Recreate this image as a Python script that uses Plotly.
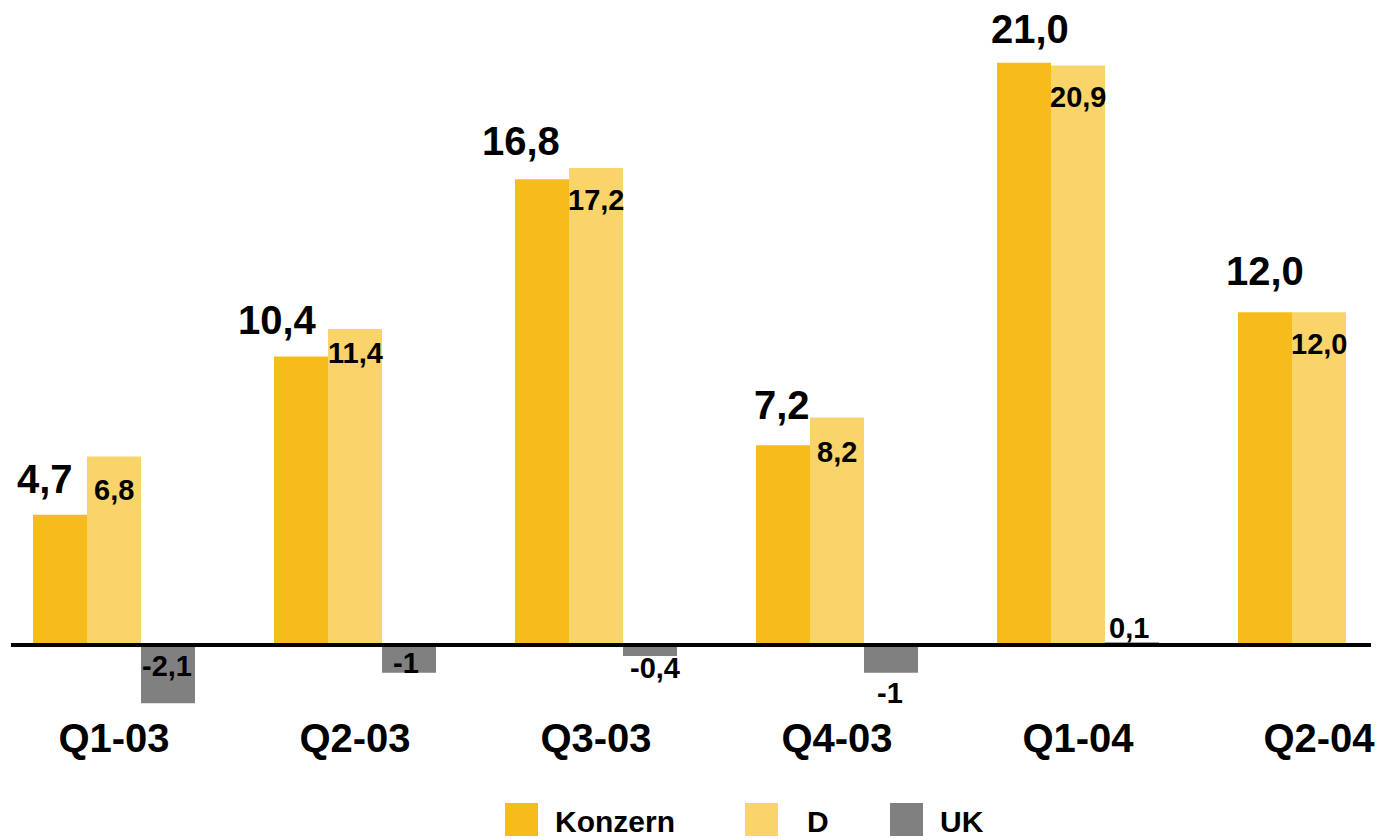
import plotly.graph_objects as go

categories = ["Q1-03", "Q2-03", "Q3-03", "Q4-03", "Q1-04", "Q2-04"]
konzern = [4.7, 10.4, 16.8, 7.2, 21.0, 12.0]
d_vals = [6.8, 11.4, 17.2, 8.2, 20.9, 12.0]
uk_vals = [-2.1, -1, -0.4, -1, 0.1, None]

konzern_labels = ["4,7", "10,4", "16,8", "7,2", "21,0", "12,0"]
d_labels = ["6,8", "11,4", "17,2", "8,2", "20,9", "12,0"]
uk_labels = ["-2,1", "-1", "-0,4", "-1", "0,1", ""]

series_names = ["Konzern", "D", "UK"]
colors = ["#F6BC1C", "#F9D46B", "#808080"]

# label placement tweaks (pixels)
k_dx = [-15, -24, -21, -1, 6, 0]
k_dy = [36, 37, 38, 40, 34, 41]
d_dy = [-34, -24.5, -32, -34.5, -32, -31.5]
uk_dx = [-1, -3, 5, -1, -3, 0]
uk_dy = [-21, -18, -23, -48, 17, 0]

# page body margin offset (browser default 8px)
OFF = 8
W, H = 1388 - OFF, 840 - OFF
plot_bottom = 705 - OFF
zero_px = 645 - OFF
px_per_unit = 27.73
cat_step = 241
first_center = 114 - OFF
bar_px = 54

FONT = "Liberation Sans, Arial, sans-serif"

fig = go.Figure()
for name, vals, col in zip(series_names, [konzern, d_vals, uk_vals], colors):
    fig.add_trace(go.Bar(x=categories, y=vals, name=name, marker=dict(color=col, line=dict(width=0)),
                         showlegend=False, hoverinfo="x+y+name"))

annotations = []
for i, c in enumerate(categories):
    annotations.append(dict(x=c, y=konzern[i], xref="x", yref="y", text=konzern_labels[i],
                            showarrow=False, xanchor="center", yanchor="middle",
                            xshift=-bar_px + k_dx[i], yshift=k_dy[i],
                            font=dict(family=FONT, size=40, color="black", weight="bold")))
    annotations.append(dict(x=c, y=d_vals[i], xref="x", yref="y", text=d_labels[i],
                            showarrow=False, xanchor="center", yanchor="middle",
                            xshift=0, yshift=d_dy[i],
                            font=dict(family=FONT, size=29, color="black", weight="bold")))
    if uk_vals[i] is not None:
        annotations.append(dict(x=c, y=0, xref="x", yref="y", text=uk_labels[i],
                                showarrow=False, xanchor="center", yanchor="middle",
                                xshift=bar_px + uk_dx[i], yshift=uk_dy[i],
                                font=dict(family=FONT, size=29, color="black", weight="bold")))

# custom legend (reference pixel coordinates converted to paper)
def px2x(px):
    return (px - OFF) / W

def py2y(py):
    return (plot_bottom - (py - OFF)) / plot_bottom

legend_sq_x = [505, 745, 890]
legend_txt_x = [553, 805, 938]
shapes = []
for i, name in enumerate(series_names):
    shapes.append(dict(type="rect", xref="paper", yref="paper",
                       x0=px2x(legend_sq_x[i]), x1=px2x(legend_sq_x[i] + 33),
                       y0=py2y(836), y1=py2y(803),
                       fillcolor=colors[i], line=dict(width=0)))
    annotations.append(dict(x=px2x(legend_txt_x[i]), y=py2y(821), xref="paper", yref="paper",
                            text=name, showarrow=False, xanchor="left", yanchor="middle",
                            font=dict(family=FONT, size=30, color="black", weight="bold")))

# zero line
shapes.append(dict(type="line", xref="paper", yref="y", x0=px2x(11), x1=px2x(1371), y0=0, y1=0,
                   line=dict(color="black", width=4), layer="above"))

x0 = -first_center / cat_step
x1 = x0 + W / cat_step
y_max = zero_px / px_per_unit
y_min = -(plot_bottom - zero_px) / px_per_unit

fig.update_layout(
    width=W, height=H,
    margin=dict(l=0, r=0, t=0, b=H - plot_bottom, pad=0),
    paper_bgcolor="white", plot_bgcolor="white",
    barmode="group", bargap=1 - 3 * bar_px / cat_step, bargroupgap=0,
    xaxis=dict(type="category", range=[x0, x1], showgrid=False, zeroline=False, showline=False,
               ticks="", ticklabelstandoff=6,
               tickfont=dict(family=FONT, size=40, color="black", weight="bold")),
    yaxis=dict(range=[y_min, y_max], showgrid=False, zeroline=False, showline=False,
               showticklabels=False, ticks=""),
    annotations=annotations, shapes=shapes,
)

fig.write_html("out.html")
